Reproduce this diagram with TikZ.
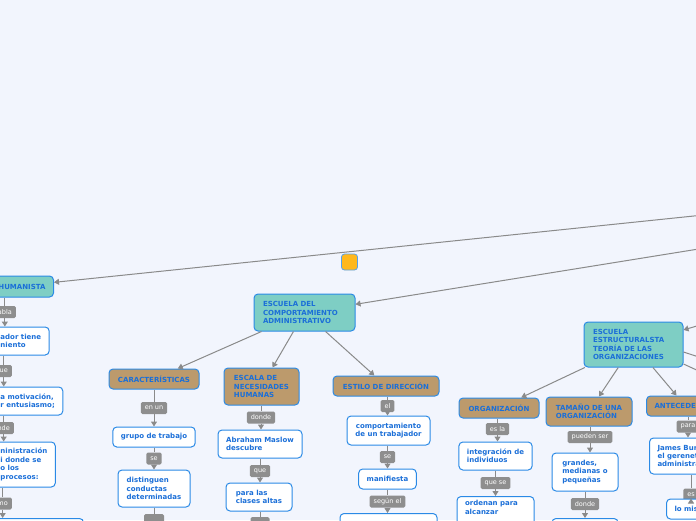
\documentclass[tikz,border=0pt]{standalone}
\usepackage{fontspec}
\setmainfont{DejaVu Sans}
\usepackage{tikz}
\usetikzlibrary{arrows.meta, calc}
\usepackage{xcolor}
\definecolor{mfondo}{HTML}{F2F5FD}
\definecolor{mazul}{HTML}{2B8AE6}
\definecolor{mtexto}{HTML}{1B6FD8}
\definecolor{mteal}{HTML}{7ECEC4}
\definecolor{mcafe}{HTML}{BC9A6C}
\definecolor{mgris}{HTML}{8E8E8E}
\definecolor{mlinea}{HTML}{8A8A8A}
\definecolor{mnaranja}{HTML}{FFB81C}
\tikzset{
  caja/.style={draw=mazul, line width=1pt, rounded corners=4pt, text=mtexto,
               font=\fontsize{7}{8.4}\selectfont\bfseries, inner xsep=8pt, inner ysep=2pt, align=left},
  cajaraiz/.style={caja, fill=mteal},
  cajacat/.style={caja, fill=mcafe},
  cajahoja/.style={caja, fill=white},
  etiq/.style={fill=mgris, text=white, rounded corners=1.5pt, font=\fontsize{6.5}{7}\selectfont,
               inner xsep=4pt, inner ysep=0pt, minimum height=12pt},
  lin/.style={draw=mlinea, line width=1pt},
  con/.style={lin, -{Triangle[length=5pt,width=6pt]}},
  marca/.style={fill=mnaranja, draw=mazul!80, line width=0.8pt, rounded corners=3pt,
                minimum size=16pt, inner sep=0pt},
}

\begin{document}
\begin{tikzpicture}[x=1pt, y=-1pt]

  \useasboundingbox (0,0) rectangle (696,520);
  \fill[mfondo] (0,0) rectangle (696,520);
  \clip (0,0) rectangle (696,520);

  %% ── off-screen root and free ends ──
  \coordinate (raiz) at (1282,155);
  \coordinate (fuera1) at (760,377);
  \coordinate (fuera2) at (760,399);

  \node[marca] (marca) at (349.5,262) {};

  %% ═══════════ LEFT: Humanista ═══════════
  \node[cajaraiz, text width=64pt, align=right, minimum height=21pt, anchor=east] (hum) at (54,286.5) {HUMANISTA};
  \node[etiq, anchor=east] (h1) at (16,312) {abla};
  \node[cajahoja, anchor=west, minimum height=28pt] (l1) at (-8,341) {ador tiene\\niento};
  \node[etiq, anchor=east] (h2) at (12,371) {ue};
  \node[cajahoja, anchor=west, minimum height=28pt] (l2) at (-8,401) {a motivación,\\r entusiasmo;};
  \node[etiq, anchor=east] (h3) at (14,428) {nde};
  \node[cajahoja, anchor=west, minimum height=45pt] (l3) at (-8,464.5) {ninistración\\i donde se\\o los\\procesos:};
  \node[etiq, anchor=east] (h4) at (12,503.5) {mo};
  \node[cajahoja, anchor=north west, minimum width=91pt, minimum height=20pt] (l4) at (-8,518) {};

  %% ═══════════ MIDDLE: Comportamiento ═══════════
  \node[cajaraiz, text width=83pt, inner xsep=9pt, minimum height=37pt] (comp) at (304.5,312.5)
    {ESCUELA DEL\\COMPORTAMIENTO\\ADMINISTRATIVO};

  \node[cajacat, minimum width=90pt, minimum height=20pt] (carac) at (154,379) {CARACTERÍSTICAS};
  \node[etiq] (e1) at (154,408) {en un};
  \node[cajahoja, minimum width=82pt, minimum height=20pt] (grupo) at (154,437) {grupo de trabajo};
  \node[etiq] (e2) at (154,458.5) {se};
  \node[cajahoja, minimum width=72pt, minimum height=37pt] (disting) at (154,488.5) {distinguen\\conductas\\determinadas};
  \node[etiq, anchor=north, minimum width=20pt] (e3) at (154,514) {};

  \node[cajacat, minimum width=75pt, minimum height=37pt] (escala) at (261.5,386.5) {ESCALA DE\\NECESIDADES\\HUMANAS};
  \node[etiq] (e4) at (261,417.5) {donde};
  \node[cajahoja, minimum width=84pt, minimum height=28pt] (abraham) at (260,444) {Abraham Maslow\\descubre};
  \node[etiq] (e5) at (260,471) {que};
  \node[cajahoja, minimum width=66pt, minimum height=28pt] (paralas) at (259,497) {para las\\clases altas};
  \node[etiq, anchor=north, minimum width=19pt] (e6) at (260,517) {};

  \node[cajacat, minimum width=106pt, minimum height=20pt] (estilo) at (386,386) {ESTILO DE DIRECCIÓN};
  \node[etiq] (e7) at (387.5,406) {el};
  \node[cajahoja, align=center, minimum width=83pt, minimum height=29pt] (comport) at (388.5,430.5)
    {comportamiento\\de un trabajador};
  \node[etiq] (e8) at (387.5,457) {se};
  \node[cajahoja, minimum width=57pt, minimum height=20pt] (manif) at (387.5,479) {manifiesta};
  \node[etiq] (e9) at (387.5,501.5) {según el};
  \node[cajahoja, anchor=north, minimum width=97pt, minimum height=20pt] (est3) at (388.5,513) {};

  %% ═══════════ RIGHT: Estructuralista ═══════════
  \node[cajaraiz, text width=81pt, inner xsep=9pt, minimum height=45pt] (estr) at (633.5,344.5)
    {ESCUELA\\ESTRUCTURALSTA\\TEORÍA DE LAS\\ORGANIZACIONES};

  \node[cajacat, minimum width=80pt, minimum height=20pt] (orga) at (499,408) {ORGANIZACIÓN};
  \node[etiq] (e10) at (497.5,429) {es la};
  \node[cajahoja, minimum width=73pt, minimum height=28pt] (integ) at (495.5,456) {integración de\\individuos};
  \node[etiq] (e11) at (495.5,483) {que se};
  \node[cajahoja, anchor=north, text width=61pt, inner ysep=4pt] (ordenan) at (495.5,496) {ordenan para\\alcanzar\\\strut};

  \node[cajacat, minimum width=86pt, minimum height=29pt] (tamano) at (589,411.5) {TAMAÑO DE UNA\\ORGANIZACIÓN};
  \node[etiq] (e12) at (590,437) {pueden ser};
  \node[cajahoja, minimum width=66pt, minimum height=38pt] (grandes) at (585,472) {grandes,\\medianas o\\pequeñas};
  \node[etiq] (e13) at (585,504) {donde};
  \node[cajahoja, anchor=north, minimum width=66pt, minimum height=20pt] (tam3) at (585,518) {};

  \node[cajacat, anchor=west, minimum height=20pt] (antec) at (646,406) {ANTECEDENTES};
  \node[etiq] (e14) at (688,426.5) {para};
  \node[cajahoja, anchor=west, minimum height=36pt] (james) at (649,456) {James Bur\\el gerenet\\administra};
  \node[etiq] (e15) at (691,494.5) {es};
  \node[cajahoja, anchor=west, minimum height=20pt] (lomis) at (666,509) {lo mis};

  %% ── main connectors ──
  \draw[con] (raiz) -- (hum);
  \draw[con] (raiz) -- (comp);
  \draw[con] (raiz) -- (estr);
  \draw[con] (comp) -- (carac);
  \draw[con] (comp) -- (escala);
  \draw[con] (comp) -- (estilo);
  \draw[con] (estr) -- (orga);
  \draw[con] (estr) -- (tamano);
  \draw[con] (estr) -- (antec);
  \draw[con] ($(estr.east)+(0,7.5)$) -- (fuera1);
  \draw[con] ($(estr.east)+(0,19.5)$) -- (fuera2);

  %% ── chains through the linking labels ──
  \draw[con] (h1 |- hum.south) -- (h1) -- (h1 |- l1.north);
  \draw[con] (h2 |- l1.south) -- (h2) -- (h2 |- l2.north);
  \draw[con] (h3 |- l2.south) -- (h3) -- (h3 |- l3.north);
  \draw[con] (h4 |- l3.south) -- (h4) -- (h4 |- l4.north);

  \draw[con] (e1 |- carac.south) -- (e1) -- (e1 |- grupo.north);
  \draw[con] (e2 |- grupo.south) -- (e2) -- (e2 |- disting.north);
  \draw[lin] (e3 |- disting.south) -- (e3);
  \draw[con] (e4 |- escala.south) -- (e4) -- (e4 |- abraham.north);
  \draw[con] (e5 |- abraham.south) -- (e5) -- (e5 |- paralas.north);
  \draw[lin] (e6 |- paralas.south) -- (e6);
  \draw[con] (e7 |- estilo.south) -- (e7) -- (e7 |- comport.north);
  \draw[con] (e8 |- comport.south) -- (e8) -- (e8 |- manif.north);
  \draw[con] (e9 |- manif.south) -- (e9) -- (e9 |- est3.north);
  \draw[con] (e10 |- orga.south) -- (e10) -- (e10 |- integ.north);
  \draw[con] (e11 |- integ.south) -- (e11) -- (e11 |- ordenan.north);
  \draw[con] (e12 |- tamano.south) -- (e12) -- (e12 |- grandes.north);
  \draw[con] (e13 |- grandes.south) -- (e13) -- (e13 |- tam3.north);
  \draw[con] (e14 |- antec.south) -- (e14) -- (e14 |- james.north);
  \draw[con] (e15 |- james.south) -- (e15) -- (e15 |- lomis.north);

\end{tikzpicture}
\end{document}
